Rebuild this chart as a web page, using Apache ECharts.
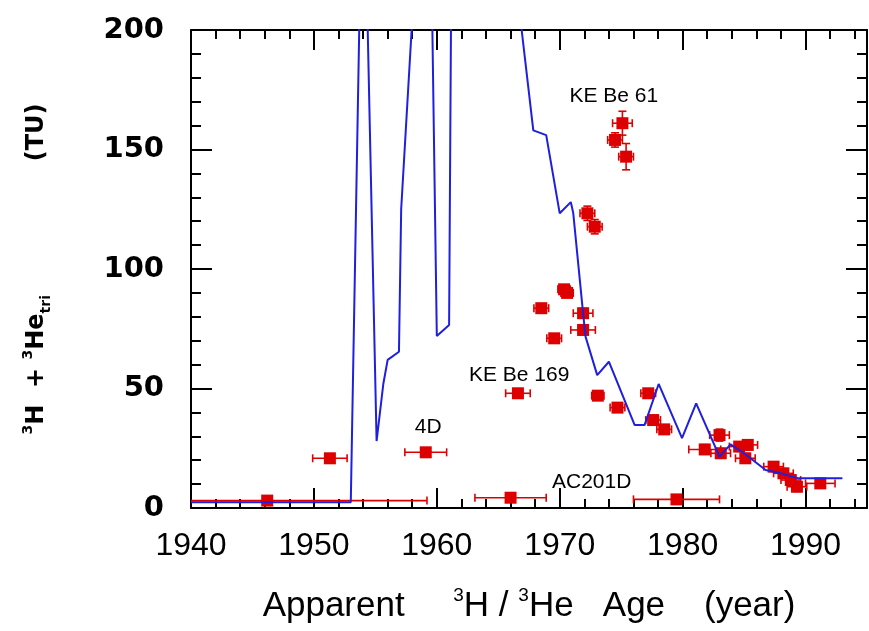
<!DOCTYPE html>
<html><head><meta charset="utf-8">
<script src="https://cdn.jsdelivr.net/npm/echarts@6/dist/echarts.min.js"></script>
<style>html,body{margin:0;padding:0;background:#fff}#c{width:869px;height:631px}</style>
</head><body><div id="c"></div>
<script>
// ---- axis ranges / ticks ----
const xMin = 1940, xMax = 1995, xMajor = 10, xMinor = 2;
const yMin = 0, yMax = 200, yMajor = 50;

// ---- blue input curve (year, TU) ----
const lineYears  = [1940, 1953.0, 1954.0, 1955.1, 1955.65, 1956.0, 1956.92, 1957.1, 1957.95, 1959.3, 1960.0, 1961.0, 1962.0, 1963.0, 1966.0, 1967.85, 1968.9, 1970.0, 1970.9, 1971.1, 1971.9, 1972.1, 1973.05, 1974.0, 1976.1, 1976.9, 1978.05, 1979.95, 1981.1, 1983.0, 1983.9, 1985.0, 1986.75, 1988.0, 1989.45, 1993.0];
const lineValues = [2.4, 2.4, 290, 28, 52, 62, 65.4, 125, 200, 320, 72, 76.6, 900, 1200, 240, 158, 156, 123.3, 128, 123.4, 81.5, 71.7, 55.6, 61.2, 34.7, 34.7, 51.9, 29.2, 43.8, 21.5, 26.6, 22.9, 15.9, 14.5, 12.4, 12.4];

// ---- samples (apparent age, 3H+3He) with errors ----
const ptYears  = [1946.2, 1951.3, 1959.1, 1966.0, 1979.5, 1966.6, 1968.5, 1970.35, 1970.6, 1969.55, 1971.9, 1971.9, 1973.1, 1974.7, 1977.2, 1977.6, 1978.5, 1974.5, 1975.1, 1975.4, 1972.25, 1972.85, 1983.0, 1981.8, 1983.1, 1984.6, 1985.3, 1985.1, 1987.4, 1988.2, 1988.8, 1989.3, 1991.2];
const ptValues = [3.1, 20.8, 23.3, 4.3, 3.6, 48.0, 83.6, 91.5, 90.0, 71.0, 81.5, 74.5, 47.0, 42.0, 48.0, 36.8, 32.9, 154, 161, 147, 123.3, 117.7, 30.5, 24.5, 22.9, 25.7, 26.4, 20.8, 17.3, 14.5, 11.7, 8.9, 10.3];
const ptXErr   = [13, 1.4, 1.7, 2.9, 3.5, 1.0, 0.6, 0.5, 0.5, 0.6, 0.8, 1.0, 0.5, 0.6, 0.6, 0.6, 0.6, 0.6, 0.8, 0.6, 0.6, 0.6, 0.8, 1.3, 0.8, 0.8, 0.8, 0.8, 0.8, 0.8, 0.8, 0.8, 1.2];
const ptYErr   = [0.5, 0.5, 0.5, 0.5, 0.5, 1, 1.5, 1.5, 1.5, 1, 2, 2, 1, 1, 1, 1, 1.5, 3, 5, 5.5, 3, 3, 2.5, 2, 2, 2, 2, 2, 2, 2, 2, 2, 1.5];

// ---- annotations ----
const noteText   = ['KE Be 61', 'KE Be 169', '4D', 'AC201D'];
const noteYears  = [1974.4, 1966.7, 1959.3, 1972.6];
const noteValues = [172.5, 55.5, 34, 11];

const RED = '#dd0000', BLUE = '#1f1fe0', INK = '#000';
const lineData = lineYears.map((x, i) => [x, lineValues[i]]);
const ptData = ptYears.map((x, i) => [x, ptValues[i], ptXErr[i], ptYErr[i]]);
const noteData = noteYears.map((x, i) => [x, noteValues[i], noteText[i]]);

function xAxisDef(pos, interval, len, main) {
  return {
    type: 'value', position: pos, min: xMin, max: xMax, interval: interval,
    axisLine: { show: main, onZero: false, lineStyle: { color: INK, width: 2 } },
    axisTick: { show: true, inside: true, length: len, lineStyle: { color: INK, width: 2 } },
    axisLabel: main && pos === 'bottom' ? {
      show: true, margin: 22, color: INK, fontFamily: 'Liberation Sans', fontSize: 32,
      showMaxLabel: false,
      formatter: v => (v % 10 === 0 ? String(v) : '')
    } : { show: false },
    splitLine: { show: false },
    name: main && pos === 'bottom' ? 'Apparent     {s|3}H / {s|3}He   Age    (year)' : '',
    nameLocation: 'middle', nameGap: 78,
    nameTextStyle: {
      color: INK, fontFamily: 'Liberation Sans', fontSize: 35, lineHeight: 40,
      rich: { s: { fontFamily: 'Liberation Sans', fontSize: 19, lineHeight: 19, verticalAlign: 'top', color: INK } }
    }
  };
}
function yAxisDef(pos, main) {
  return {
    type: 'value', position: pos, min: yMin, max: yMax, interval: yMajor,
    axisLine: { show: true, onZero: false, lineStyle: { color: INK, width: 2 } },
    axisTick: { show: true, inside: true, length: 21, lineStyle: { color: INK, width: 2 } },
    minorTick: { show: true, splitNumber: 5, length: 10, lineStyle: { color: INK, width: 2 } },
    axisLabel: main ? { show: true, margin: 27, color: INK, fontFamily: 'DejaVu Sans', fontWeight: 'bold', fontSize: 29 } : { show: false },
    splitLine: { show: false }, minorSplitLine: { show: false },
    name: main ? '{s|3}{b|H  + }{s|3}{b|He}{t|tri}{b|                (TU)}' : '',
    nameLocation: 'middle', nameGap: 138, nameRotate: 90,
    nameTextStyle: {
      color: INK, fontFamily: 'DejaVu Sans', fontWeight: 'bold', fontSize: 24,
      rich: {
        b: { fontFamily: 'DejaVu Sans', fontWeight: 'bold', fontSize: 24, lineHeight: 32, color: INK },
        s: { fontFamily: 'DejaVu Sans', fontWeight: 'bold', fontSize: 14, lineHeight: 15, verticalAlign: 'top', color: INK },
        t: { fontFamily: 'DejaVu Sans', fontWeight: 'bold', fontSize: 14, lineHeight: 15, verticalAlign: 'bottom', color: INK }
      }
    }
  };
}

const chart = echarts.init(document.getElementById('c'), null, { renderer: 'canvas' });
chart.setOption({
  animation: false,
  backgroundColor: '#fff',
  grid: { left: 191, right: 2, top: 30, bottom: 123, containLabel: false },
  xAxis: [
    xAxisDef('bottom', xMajor, 20, true),
    xAxisDef('bottom', xMinor, 9, false),
    xAxisDef('top', xMajor, 20, true),
    xAxisDef('top', xMinor, 9, false)
  ],
  yAxis: [yAxisDef('left', true), yAxisDef('right', false)],
  series: [
    {
      type: 'custom', xAxisIndex: 0, yAxisIndex: 0, z: 2, clip: true,
      data: ptData,
      renderItem: function (params, api) {
        const x = api.value(0), y = api.value(1), ex = api.value(2), ey = api.value(3);
        const st = { stroke: RED, lineWidth: 1.6 };
        const cap = 4;
        const lx = Math.max(x - ex, xMin), rx = Math.min(x + ex, xMax);
        const L = api.coord([lx, y]), R = api.coord([rx, y]);
        const T = api.coord([x, y + ey]), B = api.coord([x, Math.max(y - ey, yMin)]);
        const ch = [
          { type: 'line', shape: { x1: L[0], y1: L[1], x2: R[0], y2: R[1] }, style: st },
          { type: 'line', shape: { x1: T[0], y1: T[1], x2: B[0], y2: B[1] }, style: st },
          { type: 'line', shape: { x1: T[0] - cap, y1: T[1], x2: T[0] + cap, y2: T[1] }, style: st },
          { type: 'line', shape: { x1: B[0] - cap, y1: B[1], x2: B[0] + cap, y2: B[1] }, style: st }
        ];
        if (lx === x - ex) ch.push({ type: 'line', shape: { x1: L[0], y1: L[1] - cap, x2: L[0], y2: L[1] + cap }, style: st });
        if (rx === x + ex) ch.push({ type: 'line', shape: { x1: R[0], y1: R[1] - cap, x2: R[0], y2: R[1] + cap }, style: st });
        return { type: 'group', children: ch };
      }
    },
    {
      type: 'scatter', xAxisIndex: 0, yAxisIndex: 0, z: 3,
      symbol: 'rect', symbolSize: 12,
      itemStyle: { color: RED, opacity: 1 },
      data: ptData.map(d => [d[0], d[1]])
    },
    {
      type: 'line', xAxisIndex: 0, yAxisIndex: 0, z: 4, clip: true,
      symbol: 'none', lineStyle: { color: BLUE, width: 2 },
      data: lineData
    },
    {
      type: 'scatter', xAxisIndex: 0, yAxisIndex: 0, z: 5,
      symbolSize: 0, silent: true,
      itemStyle: { opacity: 1 },
      label: {
        show: true, position: 'inside', formatter: p => p.data[2], opacity: 1,
        color: INK, fontFamily: 'Liberation Sans', fontSize: 21
      },
      data: noteData
    }
  ]
});
</script>
</body></html>
